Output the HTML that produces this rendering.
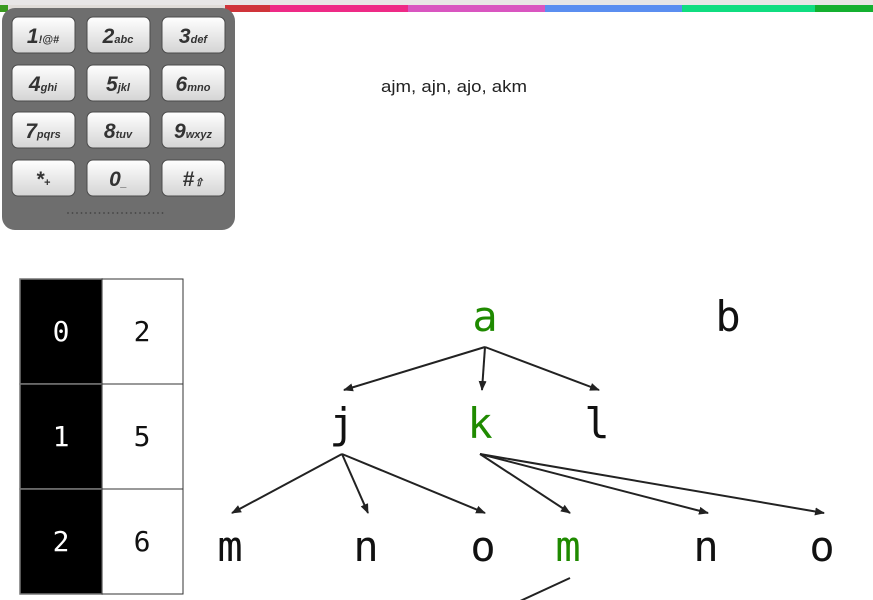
<!DOCTYPE html>
<html><head><meta charset="utf-8"><style>
html,body{margin:0;padding:0;background:#fff;width:873px;height:600px;overflow:hidden}
svg{display:block}
.mono{font-family:"DejaVu Sans Mono","Liberation Mono",monospace}
</style></head><body>
<svg width="873" height="600" viewBox="0 0 873 600">
<defs>
<marker id="ah" viewBox="0 0 10 10" refX="9" refY="5" markerWidth="5" markerHeight="5" orient="auto"><path d="M0,1 L10,5 L0,9 z" fill="#222"/></marker>
<linearGradient id="kg" x1="0" y1="0" x2="0" y2="1"><stop offset="0" stop-color="#ffffff"/><stop offset="1" stop-color="#d4d4d4"/></linearGradient>
</defs>
<rect x="0" y="0" width="873" height="5" fill="#e8e6e6"/>
<g id="colorbar"></g>
<rect x="2" y="8" width="233" height="222" rx="13" fill="#6e6e6e"/>
<g id="keys"></g>
<text x="381" y="92" font-family="Liberation Sans, sans-serif" font-size="17" fill="#222" textLength="146" lengthAdjust="spacingAndGlyphs">ajm, ajn, ajo, akm</text>
<g id="table"></g>
<g id="tree"></g>
</svg>
<script>
const NS="http://www.w3.org/2000/svg";
function mk(t,a,p){const e=document.createElementNS(NS,t);for(const k in a)e.setAttribute(k,a[k]);p.appendChild(e);return e;}
const barColors=["#3a9a20","#e0dcd8","#d0343a","#ee2a86","#d955c0","#5b8ef0","#10dd80","#14b030"];
const barStops=[0,8,225,270,408,545,682,815,873];
const cb=document.getElementById('colorbar');
for(let i=0;i<barColors.length;i++){const r=mk('rect',{x:barStops[i],y:5,width:barStops[i+1]-barStops[i],height:7,fill:barColors[i]},cb);

}
const keyMain=["1","2","3","4","5","6","7","8","9","*","0","#"];
const keySub=["!@#","abc","def","ghi","jkl","mno","pqrs","tuv","wxyz","+","_","⇧"];
const kg=document.getElementById('keys');
const colX=[12,87,162],rowY=[17,65,112,160];
keyMain.forEach((m,i)=>{const x=colX[i%3],y=rowY[Math.floor(i/3)];
const g=mk('g',{},kg);


mk('rect',{x:x,y:y,width:63,height:36,rx:6,fill:'url(#kg)',stroke:'#4a4a4a','stroke-width':1},g);
const t=mk('text',{x:x+31,y:y+26,'text-anchor':'middle','font-family':'Liberation Sans, sans-serif','font-weight':'bold','font-style':'italic',fill:'#333'},g);
const a=mk('tspan',{'font-size':21},t);a.textContent=m;
const b=mk('tspan',{'font-size':11},t);b.textContent=keySub[i];});
for(let i=0;i<22;i++){const d=mk('circle',{cx:68+i*4.5,cy:213,r:0.9,fill:'#444'},kg);

}
const tIdx=["0","1","2"],tVal=["2","5","6"];
const tb=document.getElementById('table');
const rY=[279,384,489];
tIdx.forEach((v,i)=>{const y=rY[i];
const c1=mk('rect',{x:20,y:y,width:82,height:105,fill:'#000',stroke:'#777','stroke-width':1.5},tb);


const c2=mk('rect',{x:102,y:y,width:81,height:105,fill:'#fff',stroke:'#333','stroke-width':1},tb);


const t1=mk('text',{x:61,y:y+62,'text-anchor':'middle','font-size':28,fill:'#fff',class:'mono'},tb);t1.textContent=v;


const t2=mk('text',{x:142,y:y+62,'text-anchor':'middle','font-size':28,fill:'#111',class:'mono'},tb);t2.textContent=tVal[i];

});
const nodeLabels=["a","b","j","k","l","m","n","o","m","n","o"];
const nodeX=[485,728,342,480,597,230,366,483,568,706,822];
const nodeY=[331,331,438,438,438,561,561,561,561,561,561];
const nodeGreen=[1,0,0,1,0,0,0,0,1,0,0];
const edges=[[0,2],[0,3],[0,4],[2,5],[2,6],[2,7],[3,8],[3,9],[3,10]];
const tr=document.getElementById('tree');
edges.forEach(([p,c])=>{const l=mk('line',{x1:nodeX[p],y1:nodeY[p]+16,x2:nodeX[c]+2,y2:nodeY[c]-48,stroke:'#222','stroke-width':2,'marker-end':'url(#ah)'},tr);

});
const tail=mk('line',{x1:570,y1:578,x2:518,y2:602,stroke:'#222','stroke-width':2},tr);


nodeLabels.forEach((s,i)=>{const t=mk('text',{x:nodeX[i],y:nodeY[i],'text-anchor':'middle','font-size':42,fill:nodeGreen[i]?'#1f8a00':'#111',class:'mono'},tr);
t.textContent=s;

});
</script>
</body></html>
